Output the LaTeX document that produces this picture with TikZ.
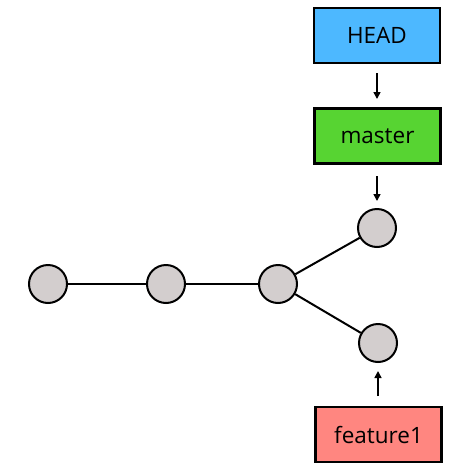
\documentclass[tikz,border=0pt]{standalone}
\usepackage{fontspec}
\setmainfont{Open Sans}
\usetikzlibrary{arrows.meta}
\definecolor{headblue}{RGB}{77,184,255}
\definecolor{mastergreen}{RGB}{87,212,50}
\definecolor{featred}{RGB}{255,134,128}
\definecolor{commitgray}{RGB}{211,206,206}
\begin{document}
\begin{tikzpicture}[x=1pt,y=-1pt,
  refbox/.style={draw=black,line width=2.5pt,minimum width=126pt,minimum height=55pt,inner sep=0pt,font=\fontsize{22.5}{26}\selectfont},
  commit/.style={circle,draw=black,line width=2pt,fill=commitgray,minimum size=38pt,inner sep=0pt},
  link/.style={line width=2pt},
  ptr/.style={line width=1.6pt,-{Triangle[length=7pt,width=7pt]}}]
\useasboundingbox (0,0) rectangle (474,472);
\node[refbox,fill=headblue] (head) at (377,35.5) {HEAD};
\node[refbox,fill=mastergreen] (master) at (377.5,136) {master};
\node[refbox,fill=featred] (feat) at (378.5,434.5) {feature1};
\node[commit] (c1) at (48,284) {};
\node[commit] (c2) at (166,284) {};
\node[commit] (c3) at (278,284) {};
\node[commit] (c4) at (377,228) {};
\node[commit] (c5) at (378,343) {};
\draw[link] (c1) -- (c2);
\draw[link] (c2) -- (c3);
\draw[link] (c3) -- (c4);
\draw[link] (c3) -- (c5);
\coordinate (h1) at (377,73);
\coordinate (h2) at (377,99);
\coordinate (m1) at (377,176);
\coordinate (m2) at (377,201);
\coordinate (f1) at (378,396);
\coordinate (f2) at (378,371);
\draw[ptr] (h1) -- (h2);
\draw[ptr] (m1) -- (m2);
\draw[ptr] (f1) -- (f2);
\end{tikzpicture}
\end{document}
